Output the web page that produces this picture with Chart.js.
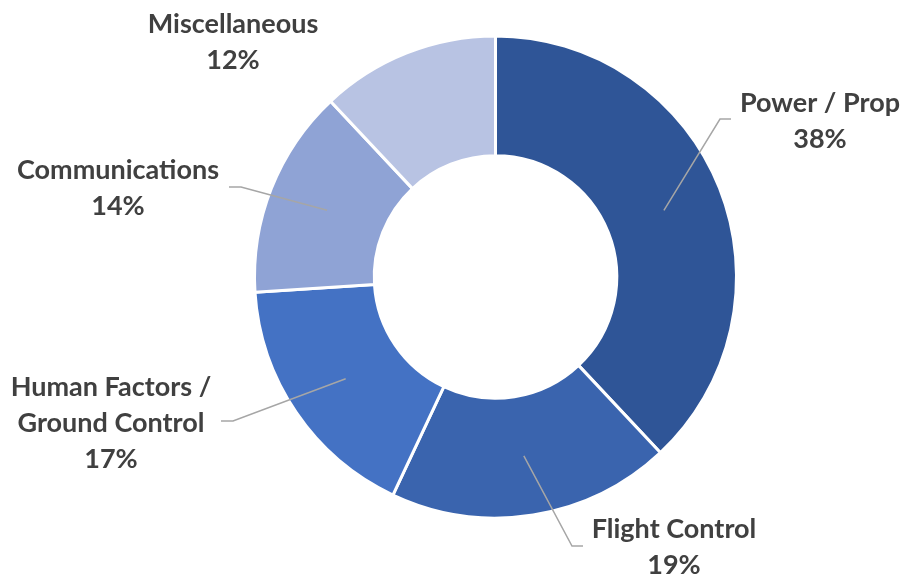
<!DOCTYPE html>
<html>
<head>
<meta charset="utf-8">
<script src="https://cdn.jsdelivr.net/npm/chart.js@4.4.0/dist/chart.umd.min.js"></script>
<style>
  html, body { margin: 0; padding: 0; background: #ffffff; }
  #wrap { width: 905px; height: 578px; }
</style>
</head>
<body>
<div id="wrap"><canvas id="donut" width="905" height="578"></canvas></div>
<script>
// Failure categories and their shares (%)
const categories = ['Power / Prop', 'Flight Control', 'Human Factors / Ground Control', 'Communications', 'Miscellaneous'];
const shares = [38, 19, 17, 14, 12];
const sliceColors = ['#2F5597', '#3A64AE', '#4472C4', '#8FA3D5', '#B8C3E3'];

// Label text lines per slice
const labelLines = [
    ['Power / Prop'],
    ['Flight Control'],
    ['Human Factors /', 'Ground Control'],
    ['Communications'],
    ['Miscellaneous']
];

// Where each label sits (centre x, first baseline) and its leader elbow
const labelLayout = [
    { x: 820, y: 112, elbow: [720, 119], end: [731, 119] },
    { x: 674, y: 538, elbow: [572, 546], end: [583, 546] },
    { x: 111, y: 396, elbow: [233, 421], end: [221, 421] },
    { x: 118, y: 179, elbow: [241, 187], end: [229, 187] },
    { x: 233, y: 33, elbow: null, end: null }
];

const lineGap = 36;

const labelPlugin = {
    id: 'sliceLabels',
    afterDatasetsDraw(chart) {
        const ctx = chart.ctx;
        const meta = chart.getDatasetMeta(0);
        ctx.save();

        // leader lines
        ctx.strokeStyle = '#A6A6A6';
        ctx.lineWidth = 1.5;
        meta.data.forEach((arc, i) => {
            const lay = labelLayout[i];
            if (!lay.elbow) return;
            const p = arc.getCenterPoint();
            ctx.beginPath();
            ctx.moveTo(p.x, p.y);
            ctx.lineTo(lay.elbow[0], lay.elbow[1]);
            ctx.lineTo(lay.end[0], lay.end[1]);
            ctx.stroke();
        });

        // text
        ctx.fillStyle = '#404040';
        ctx.font = 'bold 27px Lato';
        ctx.textAlign = 'center';
        ctx.textBaseline = 'alphabetic';
        meta.data.forEach((arc, i) => {
            const lay = labelLayout[i];
            const lines = labelLines[i].concat([shares[i] + '%']);
            lines.forEach((t, k) => {
                ctx.fillText(t, lay.x, lay.y + k * lineGap);
            });
        });
        ctx.restore();
    }
};

new Chart(document.getElementById('donut').getContext('2d'), {
    type: 'doughnut',
    data: {
        labels: categories,
        datasets: [{
            data: shares,
            backgroundColor: sliceColors,
            borderColor: '#ffffff',
            borderWidth: 3
        }]
    },
    options: {
        responsive: false,
        animation: false,
        radius: 241,
        cutout: 120,
        layout: {
            padding: { left: 255, right: 169, top: 37, bottom: 61 }
        },
        plugins: {
            legend: { display: false },
            tooltip: { enabled: false }
        }
    },
    plugins: [labelPlugin]
});
</script>
</body>
</html>
